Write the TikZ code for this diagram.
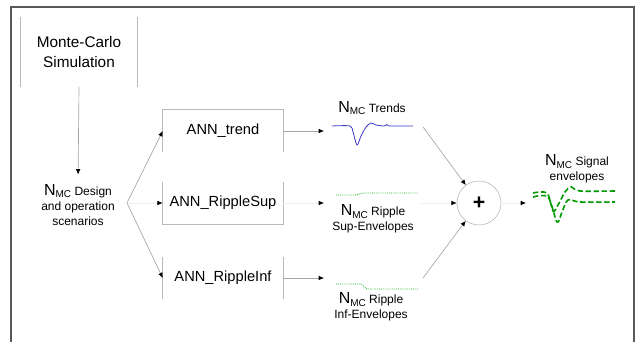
\documentclass[tikz,border=0pt]{standalone}
\usepackage{fontspec}
\setmainfont{Liberation Sans}
\usetikzlibrary{arrows.meta,positioning}
\newcommand{\Nmc}{{\fontsize{12}{14}\selectfont N}\raisebox{-0.4ex}{\fontsize{7.5}{8}\selectfont MC}}

\begin{document}
\begin{tikzpicture}[
    x=0.75pt, y=-0.75pt,
    boxtext/.style={align=center, inner sep=0pt, font=\fontsize{11}{13}\selectfont},
    annbox/.style={boxtext, minimum width=90pt, minimum height=31.5pt},
    mcbox/.style={boxtext, minimum width=87pt, minimum height=52pt, font=\fontsize{11.5}{15}\selectfont},
    lab/.style={align=center, inner sep=0pt, font=\fontsize{9}{11.5}\selectfont},
    edge/.style={draw=gray!55, line width=0.6pt},
    arrow/.style={-{Latex[length=4pt,width=3.5pt,color=black]}, draw=gray!70, line width=0.5pt},
    faint/.style={arrow, draw=gray!15},
    sumnode/.style={circle, draw=gray!60, minimum size=33pt, inner sep=0pt, font=\fontsize{16}{16}\selectfont\bfseries},
    frame/.style={draw=gray!70!black, line width=0.8pt},
    trendline/.style={draw=blue!55!gray, line width=0.6pt},
    ripple/.style={draw=green!65!black, line width=0.6pt, densely dotted},
    env/.style={draw=green!60!black, line width=1.2pt, dash pattern=on 4pt off 2pt}
]
\useasboundingbox (0,0) rectangle (638,342);
\draw[frame] (11,342) -- (11,7) -- (634,7) -- (634,342);

\node[mcbox] (mc) at (79,52) {Monte-Carlo\\Simulation};
\draw[edge] (mc.north west) -- (mc.south west) (mc.north east) -- (mc.south east);

\node[lab] (design) at (78,205) {\Nmc{} Design\\and operation\\scenarios};
\coordinate (fork) at (127,203);

\node[annbox] (trend) at (223,131) {ANN\_trend};
\node[annbox] (sup) at (223,203) {ANN\_RippleSup};
\node[annbox] (inf) at (223,278) {ANN\_RippleInf};
\draw[edge] (trend.south west) -- (trend.north west) -- (trend.north east) -- (trend.south east);
\draw[edge] (sup.north west) -- (sup.south west) -- (sup.south east) -- (sup.north east);
\draw[edge] (inf.north west) -- (inf.south west) (inf.north east) -- (inf.south east);

\draw[arrow, shorten >=7pt] (mc.south) -- (design.north);
\draw[arrow] (fork) -- (trend.west);
\draw[faint] (fork) -- (sup.west);
\draw[arrow] (fork) -- (inf.west);

\coordinate (tin) at (324,131);
\coordinate (sin) at (324,203);
\coordinate (iin) at (324,278);
\draw[arrow] (trend.east) -- (tin);
\draw[faint] (sup.east) -- (sin);
\draw[arrow] (inf.east) -- (iin);

\draw[trendline] plot[smooth, tension=0.5] coordinates {(332,126) (350,126) (353,132) (357,145) (361,136) (366,127) (371,123) (376,125) (384,126) (387,124.5) (390,126) (413,126)};
\draw[ripple] (336,195) -- (356,195) -- (363,193) -- (418,193);
\draw[ripple] (336,284) -- (361,284) -- (367,289) -- (418,289);

\node[lab] (trendlab) at (372,108) {\Nmc{} Trends};
\node[lab] (suplab) at (373,219) {\Nmc{} Ripple\\Sup-Envelopes};
\node[lab] (inflab) at (371,307) {\Nmc{} Ripple\\Inf-Envelopes};

\node[sumnode] (sum) at (479,203) {+};
\coordinate (tout) at (423,127);
\coordinate (sout) at (421,203);
\coordinate (iout) at (423,278);
\draw[arrow] (tout) -- (sum);
\draw[faint] (sout) -- (sum);
\draw[arrow] (iout) -- (sum);
\coordinate (oin) at (526,203);
\draw[faint] (sum) -- (oin);

\draw[env] plot[smooth, tension=0.5] coordinates {(533,193) (547,193) (553,211) (558,205) (565,192) (571,187) (580,191) (615,191)};
\draw[env] plot[smooth, tension=0.5] coordinates {(533,197) (548,197) (557,222) (562,212) (568,200) (580,202) (615,202)};
\node[lab] (siglab) at (577,169) {\Nmc{} Signal\\envelopes};
\end{tikzpicture}
\end{document}
